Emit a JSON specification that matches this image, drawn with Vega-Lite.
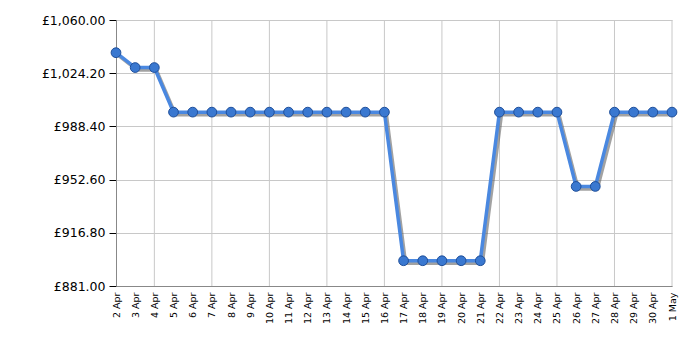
{
  "$schema": "https://vega.github.io/schema/vega-lite/v6.json",
  "autosize": "none",
  "width": 556,
  "height": 266,
  "padding": {"left": 116, "top": 20, "right": 28, "bottom": 64},
  "background": "white",
  "config": {"view": {"stroke": null}},
  "data": {"values": [
    {"date": "2024-04-02", "price": 1038},
    {"date": "2024-04-03", "price": 1028},
    {"date": "2024-04-04", "price": 1028},
    {"date": "2024-04-05", "price": 998},
    {"date": "2024-04-06", "price": 998},
    {"date": "2024-04-07", "price": 998},
    {"date": "2024-04-08", "price": 998},
    {"date": "2024-04-09", "price": 998},
    {"date": "2024-04-10", "price": 998},
    {"date": "2024-04-11", "price": 998},
    {"date": "2024-04-12", "price": 998},
    {"date": "2024-04-13", "price": 998},
    {"date": "2024-04-14", "price": 998},
    {"date": "2024-04-15", "price": 998},
    {"date": "2024-04-16", "price": 998},
    {"date": "2024-04-17", "price": 898},
    {"date": "2024-04-18", "price": 898},
    {"date": "2024-04-19", "price": 898},
    {"date": "2024-04-20", "price": 898},
    {"date": "2024-04-21", "price": 898},
    {"date": "2024-04-22", "price": 998},
    {"date": "2024-04-23", "price": 998},
    {"date": "2024-04-24", "price": 998},
    {"date": "2024-04-25", "price": 998},
    {"date": "2024-04-26", "price": 948},
    {"date": "2024-04-27", "price": 948},
    {"date": "2024-04-28", "price": 998},
    {"date": "2024-04-29", "price": 998},
    {"date": "2024-04-30", "price": 998},
    {"date": "2024-05-01", "price": 998}
  ]},
  "encoding": {
    "x": {
      "field": "date", "type": "temporal",
      "scale": {"type": "utc", "domain": [{"year": 2024, "month": 4, "date": 2, "utc": true}, {"year": 2024, "month": 5, "date": 1, "utc": true}]},
      "axis": {
        "title": null,
        "values": [
          {"year": 2024, "month": 4, "date": 2, "utc": true},{"year": 2024, "month": 4, "date": 3, "utc": true},{"year": 2024, "month": 4, "date": 4, "utc": true},{"year": 2024, "month": 4, "date": 5, "utc": true},{"year": 2024, "month": 4, "date": 6, "utc": true},{"year": 2024, "month": 4, "date": 7, "utc": true},{"year": 2024, "month": 4, "date": 8, "utc": true},{"year": 2024, "month": 4, "date": 9, "utc": true},{"year": 2024, "month": 4, "date": 10, "utc": true},{"year": 2024, "month": 4, "date": 11, "utc": true},{"year": 2024, "month": 4, "date": 12, "utc": true},{"year": 2024, "month": 4, "date": 13, "utc": true},{"year": 2024, "month": 4, "date": 14, "utc": true},{"year": 2024, "month": 4, "date": 15, "utc": true},{"year": 2024, "month": 4, "date": 16, "utc": true},{"year": 2024, "month": 4, "date": 17, "utc": true},{"year": 2024, "month": 4, "date": 18, "utc": true},{"year": 2024, "month": 4, "date": 19, "utc": true},{"year": 2024, "month": 4, "date": 20, "utc": true},{"year": 2024, "month": 4, "date": 21, "utc": true},{"year": 2024, "month": 4, "date": 22, "utc": true},{"year": 2024, "month": 4, "date": 23, "utc": true},{"year": 2024, "month": 4, "date": 24, "utc": true},{"year": 2024, "month": 4, "date": 25, "utc": true},{"year": 2024, "month": 4, "date": 26, "utc": true},{"year": 2024, "month": 4, "date": 27, "utc": true},{"year": 2024, "month": 4, "date": 28, "utc": true},{"year": 2024, "month": 4, "date": 29, "utc": true},{"year": 2024, "month": 4, "date": 30, "utc": true},{"year": 2024, "month": 5, "date": 1, "utc": true}
        ],
        "labelExpr": "utcFormat(datum.value, '%-d %b')",
        "labelAngle": -90,
        "labelAlign": "right",
        "labelBaseline": "middle",
        "labelFont": "DejaVu Sans",
        "labelFontSize": 9.5,
        "labelColor": "#000",
        "labelPadding": 6,
        "labelOverlap": false,
        "labelBound": false,
        "labelFlush": false,
        "ticks": false,
        "grid": false,
        "domainColor": "#888",
        "domainWidth": 1
      }
    },
    "y": {
      "field": "price", "type": "quantitative",
      "scale": {"domain": [881, 1060], "nice": false, "zero": false},
      "axis": {
        "title": null,
        "values": [881, 916.8, 952.6, 988.4, 1024.2, 1060],
        "labelExpr": "'£' + format(datum.value, ',.2f')",
        "labelFont": "DejaVu Sans",
        "labelFontSize": 12.5,
        "labelColor": "#000",
        "labelPadding": 4,
        "tickSize": 7,
        "tickColor": "#000",
        "gridColor": "#c8c8c8",
        "gridWidth": 1,
        "domainColor": "#888"
      }
    }
  },
  "layer": [
    {
      "mark": {"type": "rule", "color": "#c8c8c8", "strokeWidth": 1},
      "data": {"values": [
        {"g": "2024-04-04"}, {"g": "2024-04-07"}, {"g": "2024-04-10"}, {"g": "2024-04-13"}, {"g": "2024-04-16"}, {"g": "2024-04-19"}, {"g": "2024-04-22"}, {"g": "2024-04-25"}, {"g": "2024-04-28"}, {"g": "2024-05-01"}
      ]},
      "encoding": {"x": {"field": "g", "type": "temporal"}, "y": null}
    },
    {
      "mark": {"type": "tick", "orient": "vertical", "color": "#000", "thickness": 1, "size": 6, "yOffset": 2},
      "data": {"values": [
        {"g": "2024-04-04"}, {"g": "2024-04-07"}, {"g": "2024-04-10"}, {"g": "2024-04-13"}, {"g": "2024-04-16"}, {"g": "2024-04-19"}, {"g": "2024-04-22"}, {"g": "2024-04-25"}, {"g": "2024-04-28"}, {"g": "2024-05-01"}
      ]},
      "encoding": {"x": {"field": "g", "type": "temporal"}, "y": {"datum": 881, "type": "quantitative"}}
    },
    {
      "mark": {"type": "line", "color": "#555", "strokeWidth": 3.5, "opacity": 0.55, "xOffset": 2, "yOffset": 2.5}
    },
    {
      "mark": {"type": "line", "color": "#4a88e0", "strokeWidth": 3.5}
    },
    {
      "mark": {"type": "point", "filled": true, "color": "#3a78d0", "stroke": "#1f4f9a", "strokeWidth": 1, "size": 95, "opacity": 1}
    }
  ]
}
